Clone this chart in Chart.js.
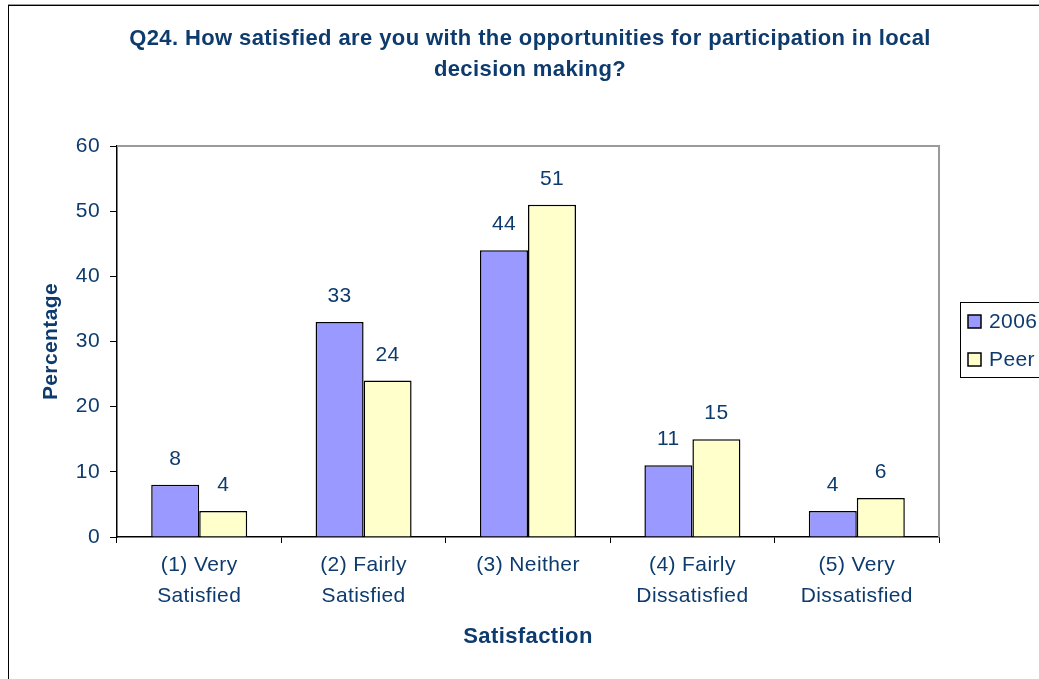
<!DOCTYPE html>
<html>
<head>
<meta charset="utf-8">
<title>Q24 Satisfaction</title>
<script src="https://cdn.jsdelivr.net/npm/chart.js@4.4.1/dist/chart.umd.min.js"></script>
<style>
  html, body { margin: 0; padding: 0; background: #fff; }
  #wrap { width: 1039px; height: 679px; }
</style>
</head>
<body>
<div id="wrap"><canvas id="chart" width="1039" height="679"></canvas></div>
<script>
  // Chart data
  const categories = [
    ['(1) Very', 'Satisfied'],
    ['(2) Fairly', 'Satisfied'],
    ['(3) Neither'],
    ['(4) Fairly', 'Dissatisfied'],
    ['(5) Very', 'Dissatisfied']
  ];
  const seriesNames = ['2006', 'Peer'];
  const values2006 = [8, 33, 44, 11, 4];
  const valuesPeer = [4, 24, 51, 15, 6];
  const yTicks = [0, 10, 20, 30, 40, 50, 60];

  const titleLines = [
    'Q24. How satisfied are you with the opportunities for participation in local',
    'decision making?'
  ];

  const navy = '#0e3b6e';
  const fillColors = ['#9999ff', '#ffffcc'];
  const fontFamily = '"Liberation Sans", Arial, sans-serif';

  /**
   * Background, outer frame and the grey top/right edge of the plot area
   */
  const framePlugin = {
    id: 'frame',
    beforeDraw: function(chart) {
      const ctx = chart.ctx;
      ctx.save();
      ctx.fillStyle = '#fff';
      ctx.fillRect(0, 0, chart.width, chart.height);
      ctx.strokeStyle = '#999';
      ctx.lineWidth = 1;
      ctx.beginPath();
      ctx.moveTo(8, 4.5);
      ctx.lineTo(chart.width + 5, 4.5);
      ctx.stroke();
      ctx.strokeStyle = '#000';
      ctx.strokeRect(8.5, 5.5, chart.width + 20, chart.height + 20);
      ctx.restore();
      // Excel spreads its glyphs a little wider
      ctx.letterSpacing = '0.4px';
    },
    beforeDatasetsDraw: function(chart) {
      const a = chart.chartArea;
      const ctx = chart.ctx;
      ctx.save();
      ctx.strokeStyle = '#9a9a9a';
      ctx.lineWidth = 2;
      ctx.beginPath();
      ctx.moveTo(a.left, a.top);
      ctx.lineTo(a.right, a.top);
      ctx.lineTo(a.right, a.bottom);
      ctx.stroke();
      ctx.restore();
    }
  };

  /**
   * Value labels above each bar
   */
  const valueLabelPlugin = {
    id: 'valueLabels',
    afterDatasetsDraw: function(chart) {
      const ctx = chart.ctx;
      ctx.save();
      ctx.font = '21px ' + fontFamily;
      ctx.fillStyle = navy;
      ctx.textAlign = 'center';
      ctx.textBaseline = 'alphabetic';
      chart.data.datasets.forEach(function(ds, i) {
        chart.getDatasetMeta(i).data.forEach(function(bar, j) {
          ctx.fillText(String(ds.data[j]), bar.x, bar.y - 20);
        });
      });
      ctx.restore();
    }
  };

  /**
   * Boxed legend on the right, Excel style
   */
  const boxLegendPlugin = {
    id: 'boxLegend',
    afterDraw: function(chart) {
      const ctx = chart.ctx;
      const left = 960.5, top = 302.5;
      ctx.save();
      ctx.strokeStyle = '#000';
      ctx.lineWidth = 1;
      ctx.strokeRect(left, top, 120, 75);
      ctx.font = '21px ' + fontFamily;
      ctx.textBaseline = 'middle';
      ctx.textAlign = 'left';
      chart.data.datasets.forEach(function(ds, i) {
        const cy = 321 + i * 38;
        ctx.fillStyle = ds.backgroundColor;
        ctx.fillRect(968, cy - 6, 13, 13);
        ctx.lineWidth = 1.5;
        ctx.strokeStyle = '#000';
        ctx.strokeRect(968, cy - 6, 13, 13);
        ctx.fillStyle = navy;
        ctx.fillText(ds.label, 989, cy + 1);
      });
      ctx.restore();
    }
  };

  const ctx = document.getElementById('chart').getContext('2d');

  new Chart(ctx, {
    type: 'bar',
    data: {
      labels: categories,
      datasets: [
        {
          label: seriesNames[0],
          data: values2006,
          backgroundColor: fillColors[0],
          borderColor: '#000',
          borderWidth: 1.5
        },
        {
          label: seriesNames[1],
          data: valuesPeer,
          backgroundColor: fillColors[1],
          borderColor: '#000',
          borderWidth: 1.5
        }
      ]
    },
    options: {
      responsive: false,
      animation: false,
      categoryPercentage: 0.584,
      barPercentage: 1,
      layout: {
        padding: { top: 0, left: 21, right: 0, bottom: 0 }
      },
      plugins: {
        legend: { display: false },
        tooltip: { enabled: false },
        title: {
          display: true,
          text: titleLines,
          color: navy,
          font: { family: fontFamily, size: 22, weight: 'bold', lineHeight: '31px' },
          padding: { top: 23, bottom: 61 }
        }
      },
      scales: {
        x: {
          afterFit: function(scale) { scale.height = 142; },
          grid: {
            drawOnChartArea: false,
            tickLength: 6,
            tickColor: '#000',
            offset: true
          },
          border: { color: '#000', width: 1.5 },
          ticks: {
            color: navy,
            padding: 7,
            maxRotation: 0,
            autoSkip: false,
            font: { family: fontFamily, size: 21, lineHeight: '31px' }
          },
          title: {
            display: true,
            text: 'Satisfaction',
            color: navy,
            font: { family: fontFamily, size: 22, weight: 'bold', lineHeight: '22px' },
            padding: { top: 0, bottom: 31 }
          }
        },
        y: {
          min: 0,
          max: 60,
          afterFit: function(scale) { scale.width = 96; },
          afterBuildTicks: function(scale) {
            scale.ticks = yTicks.map(function(v) { return { value: v }; });
          },
          grid: {
            drawOnChartArea: false,
            tickLength: 7,
            tickColor: '#000'
          },
          border: { color: '#000', width: 1.5 },
          ticks: {
            color: navy,
            padding: 10,
            font: { family: fontFamily, size: 21 }
          },
          title: {
            display: true,
            text: 'Percentage',
            color: navy,
            font: { family: fontFamily, size: 21, weight: 'bold', lineHeight: '21px' },
            padding: { top: 20, bottom: 0 }
          }
        },
        // empty right-hand strip that holds the legend
        side: {
          position: 'right',
          display: true,
          afterFit: function(scale) { scale.width = 100; },
          grid: { display: false },
          border: { display: false },
          ticks: { display: false }
        }
      }
    },
    plugins: [framePlugin, valueLabelPlugin, boxLegendPlugin]
  });
</script>
</body>
</html>
